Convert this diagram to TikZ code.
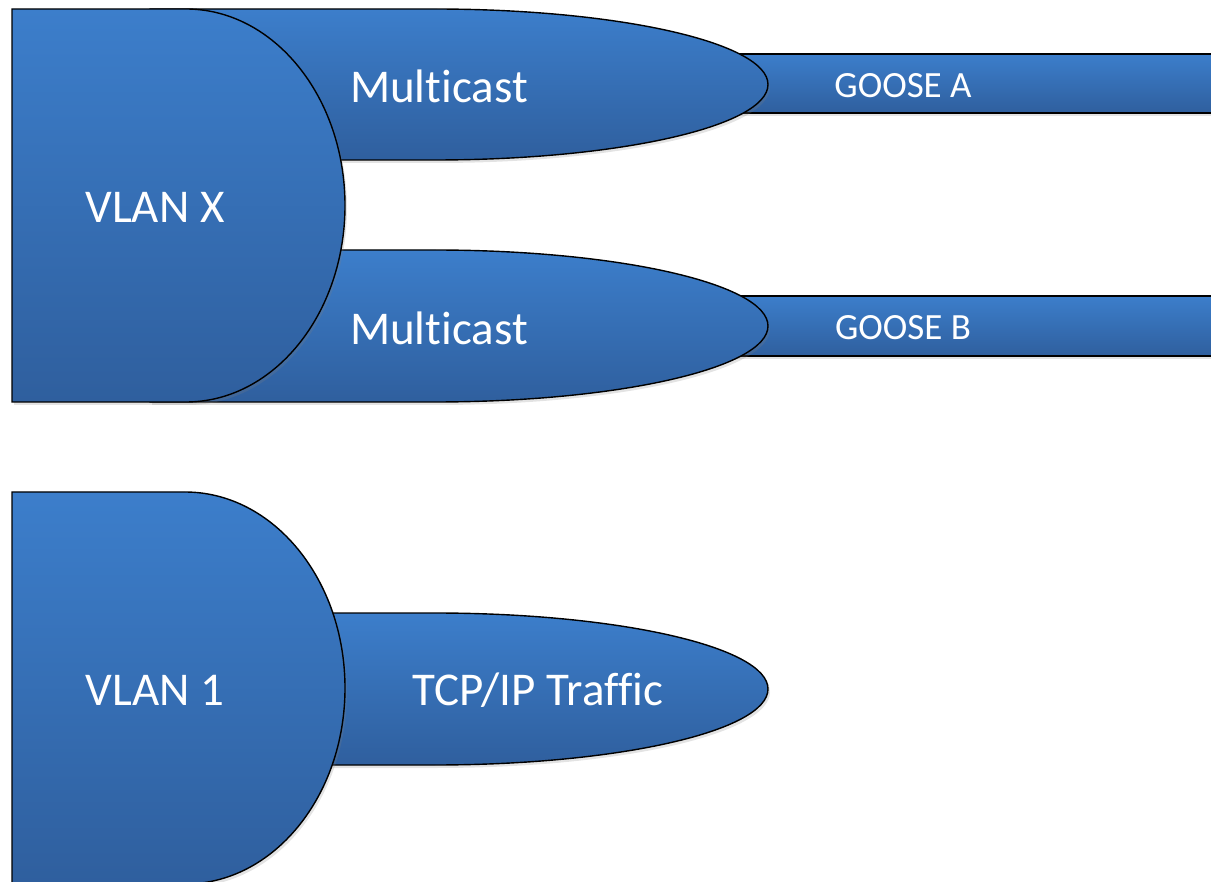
\documentclass[tikz,border=0pt]{standalone}
\usepackage{fontspec}
\setmainfont{Carlito}[Ligatures=CommonOff]
\usetikzlibrary{shadows}
\definecolor{blueTop}{RGB}{60,126,203}
\definecolor{blueBot}{RGB}{47,95,158}
\begin{document}
\begin{tikzpicture}[x=1pt,y=-1pt,
        part/.style = {draw, line width=1.4pt, top color=blueTop, bottom color=blueBot,
                drop shadow={opacity=0.22, shadow xshift=2pt, shadow yshift=-3pt}},
        big/.style = {text=white, font=\fontsize{47}{56}\selectfont},
        small/.style = {text=white, font=\fontsize{37}{44}\selectfont}]
        \useasboundingbox (0,0) rectangle (1211,882);
        \clip (0,0) rectangle (1211,882);
        % goose bars
        \path[part] (700,54) rectangle (1240,113);
        \path[part] (700,296) rectangle (1240,356);
        % multicast
        \path[part] (150,9) -- (434,9) arc[start angle=-90, end angle=90, x radius=334, y radius=75.5] -- (150,160) -- cycle;
        \path[part] (150,250) -- (434,250) arc[start angle=-90, end angle=90, x radius=334, y radius=76] -- (150,402) -- cycle;
        \path[part] (12,9) -- (186,9) arc[start angle=-90, end angle=90, x radius=159, y radius=196.5] -- (12,402) -- cycle;
        % vlan 1
        \path[part] (150,613) -- (434,613) arc[start angle=-90, end angle=90, x radius=334, y radius=76] -- (150,765) -- cycle;
        \path[part] (12,492) -- (185,492) arc[start angle=-90, end angle=90, x radius=160, y radius=196] -- (12,884) -- cycle;
        \node[big] (vlanX) at (155,207) {VLAN X};
        \node[big] (mcA) at (439,86) {Multicast};
        \node[big] (mcB) at (439,328) {Multicast};
        \node[small] (gooseA) at (903,86) {GOOSE A};
        \node[small] (gooseB) at (903,328) {GOOSE B};
        \node[big] (vlan1) at (155,690) {VLAN 1};
        \node[big] (tcp) at (538,690) {TCP/IP Traffic};
\end{tikzpicture}
\end{document}
